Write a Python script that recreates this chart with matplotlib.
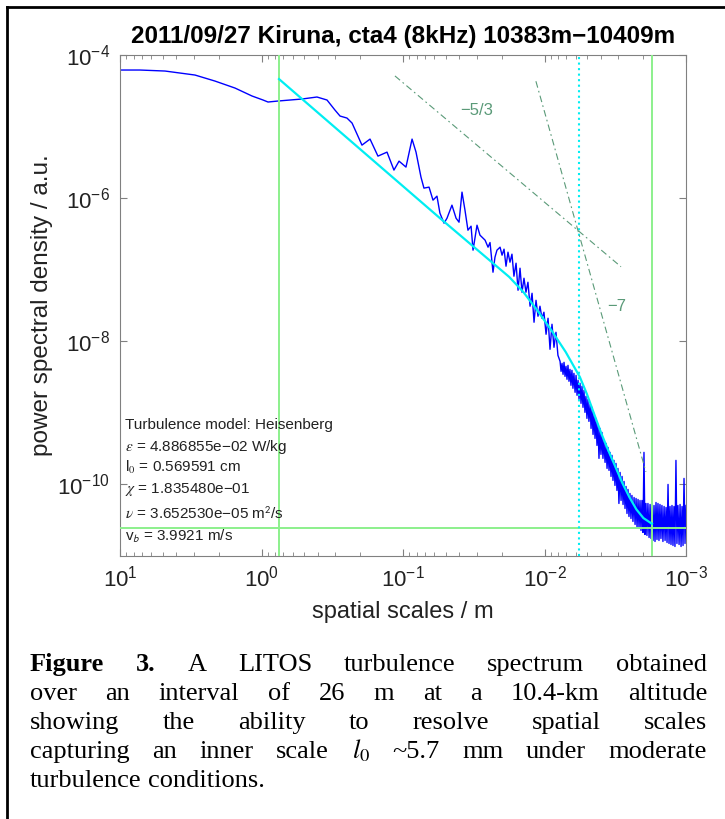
import numpy as np
import matplotlib
matplotlib.use("Agg")
import matplotlib.pyplot as plt
from matplotlib.lines import Line2D
from matplotlib.ticker import LogLocator, NullLocator, NullFormatter

plt.rcParams['font.family'] = ['Liberation Sans', 'DejaVu Sans']
plt.rcParams['mathtext.fontset'] = 'dejavusans'

# spectrum in decades: log10(scale / m), log10(psd)
spec_log_scale = [
    1.000, 0.859, 0.682, 0.470, 0.329, 0.187, 0.067, -0.011, -0.046, -0.117,
    -0.286, -0.392, -0.463, -0.519, -0.555, -0.604, -0.640, -0.710, -0.767, -0.823,
    -0.887, -0.936, -0.972, -1.021, -1.064, -1.092, -1.127, -1.148, -1.184, -1.212,
    -1.240, -1.261, -1.290, -1.311, -1.346, -1.375, -1.396, -1.417, -1.438, -1.459,
    -1.481, -1.495, -1.523, -1.544, -1.558, -1.580, -1.601, -1.615, -1.636, -1.650,
    -1.664,
    -1.686, -1.700, -1.714, -1.728, -1.742, -1.756, -1.770, -1.784, -1.799, -1.813,
    -1.827, -1.841, -1.855, -1.869, -1.883, -1.898, -1.912, -1.926, -1.940, -1.954,
    -1.968, -1.982, -1.996, -2.011, -2.025, -2.039, -2.053, -2.067, -2.081, -2.095,
    -2.110, -2.117, -2.124, -2.131, -2.138, -2.145, -2.152, -2.159, -2.166, -2.173,
    -2.180, -2.187, -2.194, -2.201, -2.208, -2.216, -2.223, -2.230, -2.237, -2.244,
    -2.251, -2.258, -2.265, -2.272, -2.279, -2.286, -2.293, -2.300, -2.307, -2.314,
    -2.322, -2.329, -2.336, -2.343, -2.350, -2.357, -2.364, -2.371, -2.378, -2.385,
    -2.392, -2.399, -2.406, -2.413, -2.420, -2.428, -2.435, -2.442, -2.449, -2.456,
    -2.463, -2.470, -2.477, -2.484, -2.491, -2.498, -2.505, -2.512, -2.519, -2.526,
    -2.534, -2.541, -2.548, -2.555, -2.562, -2.569, -2.576, -2.583, -2.590, -2.597,
    -2.604, -2.611, -2.618, -2.625, -2.633, -2.640, -2.647, -2.654, -2.661, -2.668,
    -2.675, -2.682, -2.689, -2.696, -2.703, -2.710, -2.717, -2.724, -2.731, -2.739,
    -2.746, -2.753, -2.760, -2.767, -2.774, -2.781, -2.788, -2.795, -2.802, -2.809,
    -2.816, -2.823, -2.830, -2.837, -2.845, -2.852, -2.859, -2.866, -2.873, -2.880,
    -2.887, -2.894, -2.901, -2.908, -2.915, -2.922, -2.929, -2.936, -2.943, -2.951,
    -2.958, -2.965, -2.972, -2.979, -2.986, -2.993, -3.000,
]
spec_log_psd = [
    -4.210, -4.210, -4.224, -4.280, -4.364, -4.462, -4.573, -4.629, -4.657, -4.643,
    -4.615, -4.587, -4.629, -4.769, -4.853, -4.881, -4.951, -5.259, -5.175, -5.413,
    -5.357, -5.608, -5.483, -5.566, -5.175, -5.357, -5.706, -5.860, -5.846, -6.028,
    -5.972, -6.210, -6.350, -6.280, -6.098, -6.280, -6.336, -5.916, -6.168, -6.448,
    -6.392, -6.727, -6.378, -6.517, -6.545, -6.587, -6.685, -6.620, -7.035, -6.825,
    -6.727,
    -6.685, -6.797, -6.713, -6.951, -6.755, -6.895, -6.783, -7.091, -6.909, -7.287,
    -6.979, -7.315, -7.119, -7.315, -7.175, -7.510, -7.329, -7.734, -7.427, -7.650,
    -7.510, -7.678, -7.594, -7.902, -7.678, -8.112, -7.762, -8.084, -7.874, -8.196,
    -8.280, -8.420, -8.308, -8.462, -8.294, -8.490, -8.350, -8.531, -8.336, -8.559,
    -8.392, -8.615, -8.406, -8.657, -8.448, -8.713, -8.476, -8.755, -8.545, -8.811,
    -8.587, -8.867, -8.629, -8.923, -8.685, -8.993, -8.769, -9.077, -8.811, -9.119,
    -8.881, -9.217, -8.923, -9.301, -9.007, -9.357, -9.077, -9.455, -9.161, -9.636,
    -9.217, -9.580, -9.273, -9.636, -9.385, -9.692, -9.427, -9.776, -9.483, -9.804,
    -9.552, -9.888, -9.594, -9.944, -9.664, -10.014, -9.706, -10.084, -9.776, -10.266,
    -9.832, -10.224, -9.888, -10.280, -9.958, -10.336, -10.028, -10.406, -10.070, -10.448,
    -10.126, -10.476, -10.154, -10.517, -10.182, -10.559, -10.196, -10.601, -10.210, -10.615,
    -10.224, -10.643, -10.224, -10.671, -9.552, -10.699, -10.266, -10.713, -10.266, -10.741,
    -10.280, -10.755, -10.294, -10.783, -10.294, -10.797, -10.252, -10.769, -10.266, -10.783,
    -10.280, -10.755, -10.294, -10.797, -10.308, -10.783, -10.322, -10.811, -10.000, -10.825,
    -10.308, -10.839, -10.294, -10.853, -10.308, -10.867, -9.664, -10.825, -10.294, -10.839,
    -10.280, -10.867, -10.308, -10.853, -9.916, -10.825, -10.294,
]

# Heisenberg model fit (cyan)
model_scale = [0.752, 0.0548, 0.01778, 0.01413, 0.01122, 0.00891, 0.00708, 0.00562,
               0.00501, 0.00447, 0.00398, 0.00355, 0.00316, 0.00282, 0.00251,
               0.00224, 0.00200, 0.00174]
model_psd = [4.61e-5, 5.25e-7, 7.94e-8, 4.90e-8, 2.69e-8, 1.41e-8, 7.08e-9, 3.16e-9,
             1.82e-9, 9.77e-10, 5.25e-10, 3.02e-10, 1.78e-10, 1.05e-10, 6.61e-11,
             4.47e-11, 3.39e-11, 2.82e-11]

# reference slopes
slope53_scale = [0.114, 2.88e-3]
slope53_psd = [5.1e-5, 1.1e-7]
slope7_scale = [1.15e-2, 1.92e-3]
slope7_psd = [4.3e-5, 1.5e-10]
slope_labels = ["\u22125/3", "\u22127"]
slope_label_scale = [0.030, 3.08e-3]
slope_label_psd = [1.7e-5, 3.1e-8]

fit_range = [0.752, 1.73e-3]   # green verticals
inner_scale = 5.70e-3          # cyan dotted
noise_level = 2.45e-11         # green horizontal

info_lines = [
    "Turbulence model: Heisenberg",
    "$\\epsilon$ = 4.886855e\u221202 W/kg",
    "l$_0$ = 0.569591 cm",
    "$\\chi$ = 1.835480e\u221201",
    "$\\nu$ = 3.652530e\u221205 m$^\\mathsf{2}$/s",
    "v$_\\mathsf{b}$ = 3.9921 m/s",
]

caption_lines = [
    "Figure 3. A LITOS turbulence spectrum obtained",
    "over an interval of 26 m at a 10.4-km altitude",
    "showing the ability to resolve spatial scales",
    "capturing an inner scale $l_0$ ~5.7 mm under moderate",
    "turbulence conditions.",
]
caption_bold = {"Figure", "3."}

W, H = 725, 819
fig = plt.figure(figsize=(W / 100, H / 100), dpi=100)
ax = fig.add_axes([120 / W, 1 - 556 / H, 566 / W, 501 / H])

blue = '#0000ff'
green = '#8cf08c'
cyan = '#00eef2'
dash_col = '#5a9a78'
txt_col = '#222222'

ax.plot(10 ** np.array(spec_log_scale), 10 ** np.array(spec_log_psd),
        color=blue, lw=1.0, zorder=2)
for s in fit_range:
    ax.axvline(s, color=green, lw=1.4, zorder=3)
ax.axhline(noise_level, color=green, lw=1.4, zorder=3)
ax.axvline(inner_scale, color=cyan, lw=1.5, ls=':', zorder=3)
ax.plot(model_scale, model_psd, color=cyan, lw=1.6, zorder=4)

ax.plot(slope53_scale, slope53_psd, color=dash_col, lw=0.8, ls=(0, (6, 3, 1.5, 3)), zorder=3)
ax.plot(slope7_scale, slope7_psd, color=dash_col, lw=0.8, ls=(0, (6, 3, 1.5, 3)), zorder=3)
for lab, xs, ys in zip(slope_labels, slope_label_scale, slope_label_psd):
    ax.text(xs, ys, lab, color=dash_col, fontsize=12, ha='center', va='center')

ax.set_xscale('log')
ax.set_yscale('log')
ax.set_xlim(10, 1e-3)
ax.set_ylim(1e-11, 1e-4)
ax.set_xticks([1e1, 1e0, 1e-1, 1e-2, 1e-3])
ax.xaxis.set_minor_locator(LogLocator(base=10, subs=np.arange(2, 10), numticks=20))
ax.xaxis.set_minor_formatter(NullFormatter())
ax.set_yticks([1e-10, 1e-8, 1e-6, 1e-4])
ax.yaxis.set_minor_locator(NullLocator())

spine_col = '#808080'
for sp in ax.spines.values():
    sp.set_color(spine_col)
    sp.set_linewidth(0.8)
ax.tick_params(which='both', direction='in', top=True, right=True, color=spine_col,
               labelcolor=txt_col, labelsize=16)
ax.tick_params(which='major', length=5, width=0.8)
ax.tick_params(which='minor', length=3, width=0.6)
ax.tick_params(axis='x', pad=7)
ax.tick_params(axis='y', pad=7)

ax.set_title("2011/09/27 Kiruna, cta4 (8kHz) 10383m\u221210409m", fontsize=17.5,
             fontweight='bold', y=(556 - 37) / 501, va='center', pad=0)
ax.set_xlabel("spatial scales / m", fontsize=17, color=txt_col, va='center')
ax.xaxis.set_label_coords(0.5, (556 - 612) / 501)
ax.set_ylabel("power spectral density / a.u.", fontsize=17.5, color=txt_col, va='center')
ax.yaxis.set_label_coords((42 - 120) / 566, 0.5)

info_y = [425, 447, 467, 489, 514, 536]
for line, py in zip(info_lines, info_y):
    ax.text(5 / 566, (556 - py) / 501, line, transform=ax.transAxes, fontsize=11,
            color=txt_col, ha='left', va='center', math_fontfamily='stix')

# frame lines of the cropped page
fig.add_artist(Line2D([7 / W, 1], [1 - 7 / H, 1 - 7 / H], color='black', lw=2))
fig.add_artist(Line2D([7 / W, 7 / W], [0, 1 - 7 / H], color='black', lw=2))

# justified caption
fig.canvas.draw()
renderer = fig.canvas.get_renderer()
cap_left, cap_right = 30, 707
cap_base = [671, 700, 729, 758, 787]
cap_size = 19


def word_texts(line, size):
    out = []
    for w in line.split(' '):
        kw = dict(fontsize=size, family='Liberation Serif', color='black',
                  ha='left', va='baseline')
        if w in caption_bold:
            kw['fontweight'] = 'bold'
        if w.startswith('$'):
            kw['math_fontfamily'] = 'stix'
        out.append(fig.text(0, 0, w, **kw))
    return out


for i, (line, py) in enumerate(zip(caption_lines, cap_base)):
    texts = word_texts(line, cap_size)
    widths = [t.get_window_extent(renderer).width for t in texts]
    if i < len(caption_lines) - 1:
        gap = (cap_right - cap_left - sum(widths)) / (len(texts) - 1)
    else:
        gap = cap_size * 0.25 * 100 / 72
    x = cap_left
    for t, w in zip(texts, widths):
        t.set_position((x / W, 1 - py / H))
        x += w + gap

fig.savefig('out.png', dpi=100)
